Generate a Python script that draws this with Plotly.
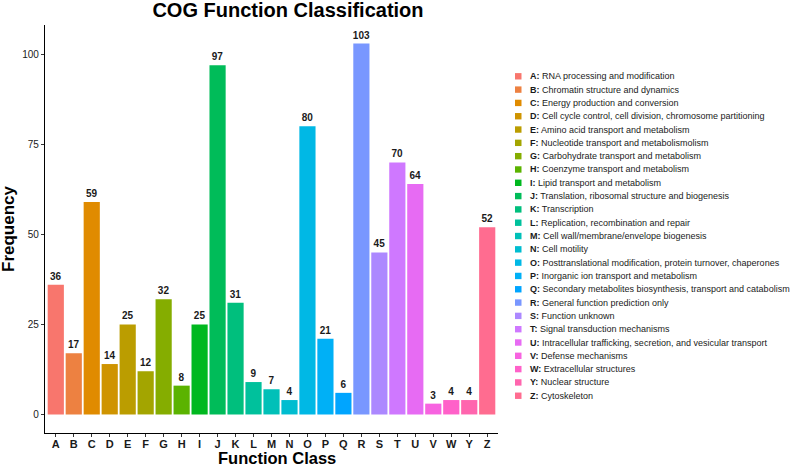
import math
import plotly.graph_objects as go

categories = ["A", "B", "C", "D", "E", "F", "G", "H", "I", "J", "K", "L", "M",
              "N", "O", "P", "Q", "R", "S", "T", "U", "V", "W", "Y", "Z"]
frequency = [36, 17, 59, 14, 25, 12, 32, 8, 25, 97, 31, 9, 7,
             4, 80, 21, 6, 103, 45, 70, 64, 3, 4, 4, 52]
descriptions = [
    "RNA processing and modification",
    "Chromatin structure and dynamics",
    "Energy production and conversion",
    "Cell cycle control, cell division, chromosome partitioning",
    "Amino acid transport and metabolism",
    "Nucleotide transport and metabolismolism",
    "Carbohydrate transport and metabolism",
    "Coenzyme transport and metabolism",
    "Lipid transport and metabolism",
    "Translation, ribosomal structure and biogenesis",
    "Transcription",
    "Replication, recombination and repair",
    "Cell wall/membrane/envelope biogenesis",
    "Cell motility",
    "Posttranslational modification, protein turnover, chaperones",
    "Inorganic ion transport and metabolism",
    "Secondary metabolites biosynthesis, transport and catabolism",
    "General function prediction only",
    "Function unknown",
    "Signal transduction mechanisms",
    "Intracellular trafficking, secretion, and vesicular transport",
    "Defense mechanisms",
    "Extracellular structures",
    "Nuclear structure",
    "Cytoskeleton",
]
y_ticks = [0, 25, 50, 75, 100]


def hcl_hex(h, c=100.0, l=65.0):
    wu, wv, wy = 0.1978398, 0.4683363, 100.0
    hr = math.radians(h)
    U = c * math.cos(hr)
    V = c * math.sin(hr)
    Y = wy * (((l + 16) / 116) ** 3 if l > 8 else l / 903.3)
    u = U / (13 * l) + wu
    v = V / (13 * l) + wv
    X = 9.0 * Y * u / (4 * v)
    Z = -X / 3 - 5 * Y + 3 * Y / v

    def g(t):
        t = 1.055 * t ** (1 / 2.4) - 0.055 if t > 0.00304 else 12.92 * t
        return min(1.0, max(0.0, t))

    r = g((3.240479 * X - 1.537150 * Y - 0.498535 * Z) / wy)
    gg = g((-0.969256 * X + 1.875992 * Y + 0.041556 * Z) / wy)
    b = g((0.055648 * X - 0.204043 * Y + 1.057311 * Z) / wy)
    return "#%02X%02X%02X" % (round(r * 255), round(gg * 255), round(b * 255))


n = len(categories)
colors = [hcl_hex(15 + 360.0 / n * i) for i in range(n)]

FONT = "Liberation Sans, Arial, sans-serif"
W, H = 796, 468
L, R, T, B = 45, 298, 25, 35
pw, ph = W - L - R, H - T - B


def px_x(x):
    return (x - L) / pw


def px_y(y):
    return (H - B - y) / ph


fig = go.Figure()
fig.add_trace(go.Bar(
    x=categories, y=frequency,
    marker=dict(color=colors, line=dict(width=0)),
    width=0.9,
    text=frequency,
    texttemplate="<b>%{text}</b>",
    textposition="outside",
    constraintext="none",
    textfont=dict(family=FONT, size=10, color="#1a1a1a"),
    cliponaxis=False,
    showlegend=False,
    hoverinfo="x+y",
))

shapes = []
annotations = []
y0, step = 76.3, 13.31
for i, (cat, desc) in enumerate(zip(categories, descriptions)):
    yc = y0 + i * step
    shapes.append(dict(
        type="rect", xref="paper", yref="paper",
        x0=px_x(515), x1=px_x(521.5), y0=px_y(yc - 3.2), y1=px_y(yc + 3.2),
        fillcolor=colors[i], line=dict(width=0), layer="above",
    ))
    annotations.append(dict(
        xref="paper", yref="paper", x=px_x(527.5), y=px_y(yc),
        xanchor="left", yanchor="middle", showarrow=False,
        text="<b>%s:</b> %s" % (cat, desc),
        font=dict(family=FONT, size=9, color="#1a1a1a"),
    ))

annotations.append(dict(
    xref="paper", yref="paper", x=px_x(8), y=0.5,
    xanchor="center", yanchor="middle", showarrow=False, textangle=-90,
    text="<b>Frequency</b>", font=dict(family=FONT, size=17, color="black"),
))
annotations.append(dict(
    xref="paper", yref="paper", x=px_x(277), y=0, yshift=-(468 - 433),
    xanchor="center", yanchor="bottom", showarrow=False,
    text="<b>Function Class</b>", font=dict(family=FONT, size=16.5, color="black"),
    borderpad=0,
))

fig.update_layout(
    width=W, height=H,
    margin=dict(l=L, r=R, t=T, b=B),
    paper_bgcolor="white", plot_bgcolor="white",
    title=dict(
        text="<b>COG Function Classification</b>",
        x=288 / W, xanchor="center", xref="container",
        y=1 - 9.5 / H, yanchor="middle", yref="container",
        font=dict(family=FONT, size=20, color="black"),
    ),
    xaxis=dict(
        range=[-0.6, n - 0.4], showgrid=False, zeroline=False,
        showline=True, linecolor="black", linewidth=1.3,
        ticks="outside", ticklen=3, tickwidth=1, tickcolor="#333",
        tickfont=dict(family=FONT, size=11, color="#1a1a1a"),
        tickprefix="<b>", ticksuffix="</b>",
        ticklabelstandoff=-2,
    ),
    yaxis=dict(
        range=[-5.15, 108.15], showgrid=False, zeroline=False,
        showline=True, linecolor="black", linewidth=1.3,
        tickvals=y_ticks, ticks="outside", ticklen=3, tickwidth=1, tickcolor="#333",
        tickfont=dict(family=FONT, size=10, color="#1a1a1a"),
        tickprefix="<b>", ticksuffix="</b>",
    ),
    shapes=shapes,
    annotations=annotations,
    bargap=0.1,
)

fig.write_html(
    "out.html",
    config={"displayModeBar": False},
    post_script="document.body.style.margin='0';document.body.style.padding='0';",
)
